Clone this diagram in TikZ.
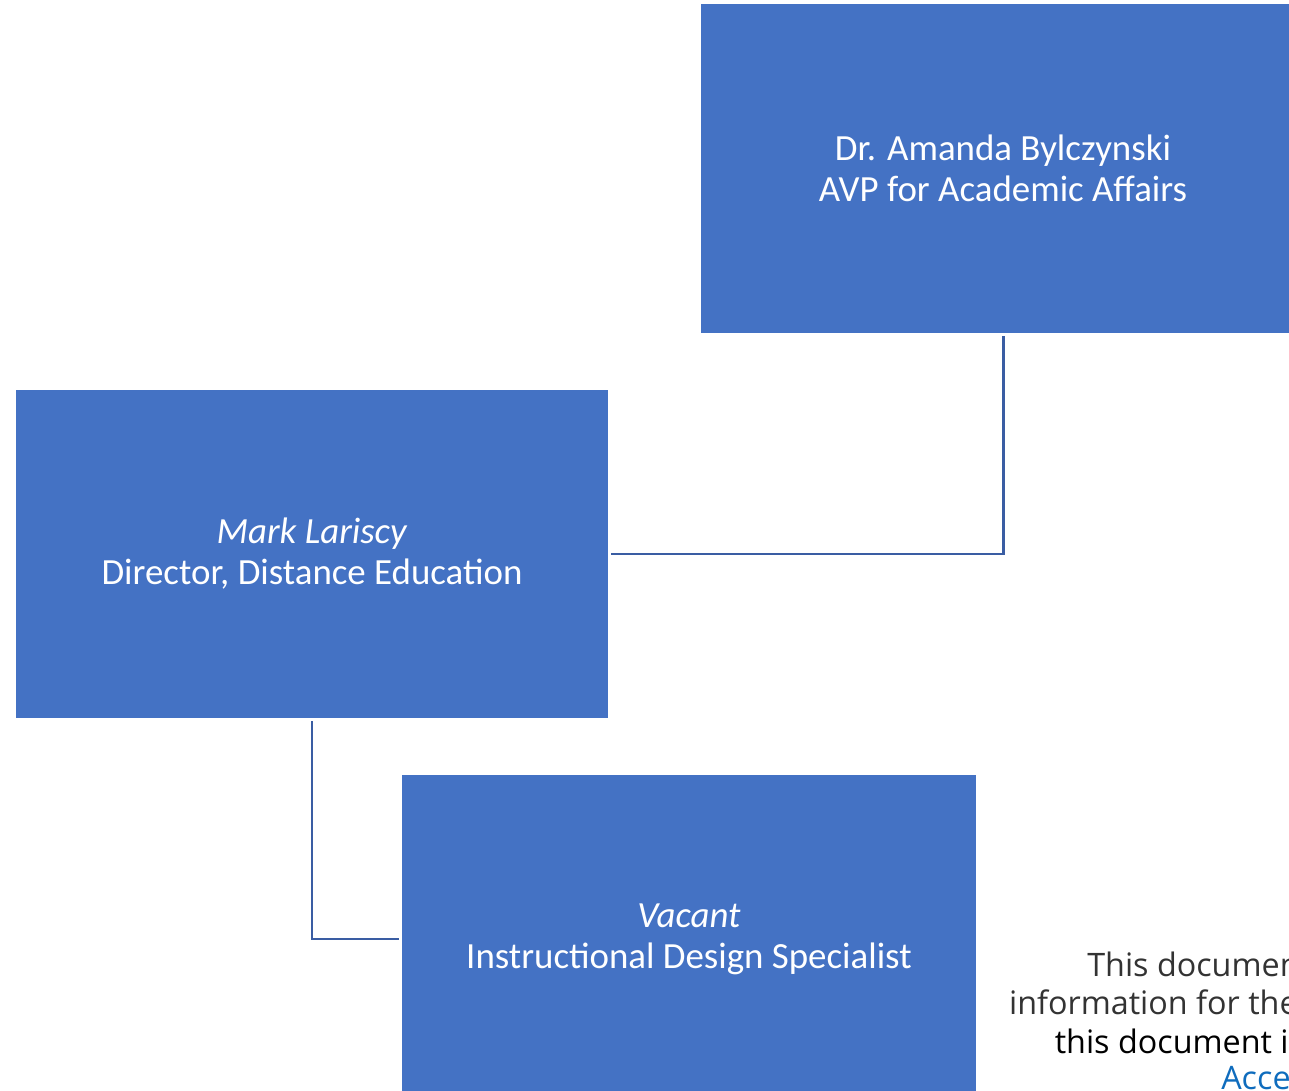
\documentclass[tikz,border=0pt]{standalone}
\usepackage{fontspec}
\setmainfont{Carlito}
\newfontfamily\notefont{Open Sans}
\usetikzlibrary{positioning}
\definecolor{BoxBlue}{HTML}{4472C4}
\definecolor{LinkBlue}{HTML}{3A5DA3}
\definecolor{NoteGray}{HTML}{333333}
\definecolor{NoteBlue}{HTML}{0F6CBD}

\begin{document}
\begin{tikzpicture}[
    x=0.02cm,y=-0.02cm,
    box/.style={fill=BoxBlue,text=white,align=center,inner sep=0pt,
        font=\fontsize{21}{23.3}\selectfont},
    link/.style={LinkBlue,line width=1.7pt,shorten <=0.06cm,shorten >=0.06cm},
    note/.style={anchor=east,inner sep=0pt,font=\notefont\fontsize{18.4}{21}\selectfont}
    ]
    \useasboundingbox (0,0) rectangle (1289,1091);

    \node[box,minimum width=12.08cm,minimum height=6.58cm] (avp) at (1003,168.5)
        {Dr. Amanda Bylczynski\\AVP for Academic Affairs};
    \node[box,minimum width=11.84cm,minimum height=6.56cm] (director) at (312,554)
        {\textit{Mark Lariscy}\\Director, Distance Education};
    \node[box,minimum width=11.48cm,minimum height=6.56cm] (vacant) at (689,939)
        {\textit{Vacant}\\Instructional Design Specialist};

    \draw[link] (avp.south) |- (director.east);
    \draw[link] (director.south) |- (vacant.west);

    \node[note,text=NoteGray] (note1) at (1300,964) {This documen};
    \node[note,text=NoteGray] (note2) at (1298,1002) {information for the};
    \node[note] (note3) at (1289,1041) {this document i};
    \node[note,text=NoteBlue] (note4) at (1291,1078) {Acce};
\end{tikzpicture}
\end{document}
